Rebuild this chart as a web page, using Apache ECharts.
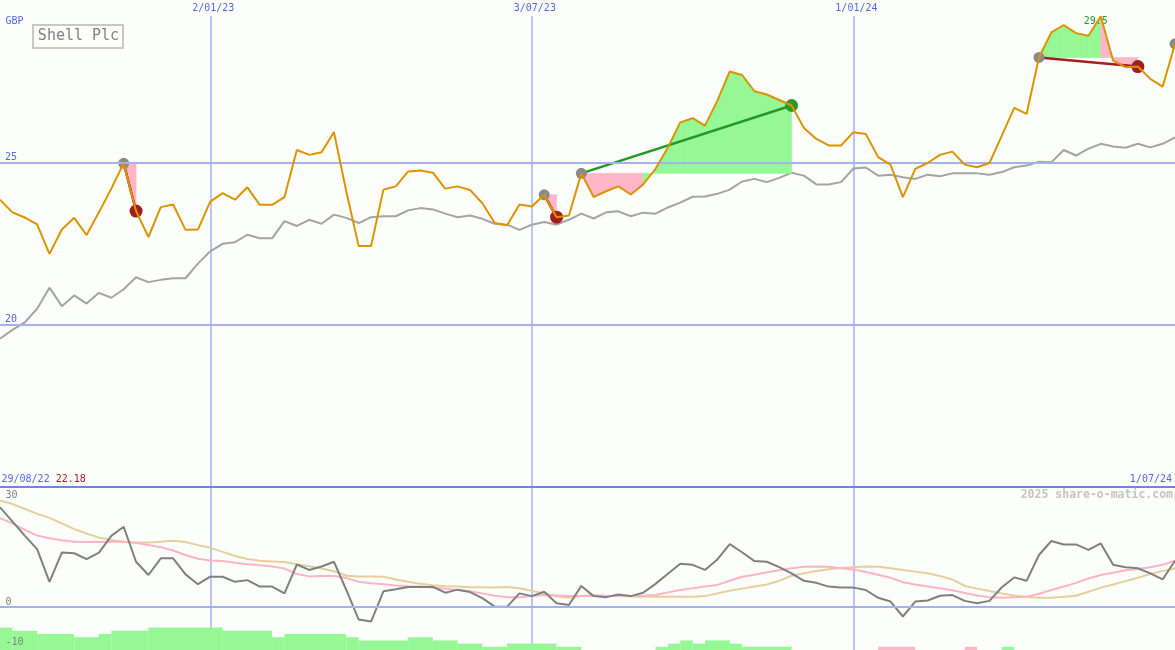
<!DOCTYPE html>
<html><head><meta charset="utf-8">
<script src="https://cdn.jsdelivr.net/npm/echarts@6/dist/echarts.min.js"></script>
<style>html,body{margin:0;padding:0;background:#fcfefc;}#c{width:1175px;height:650px;}</style>
</head><body><div id="c"></div>
<script>
// ---------------- data ----------------
const title = 'Shell Plc';
const currency = 'GBP';
const watermark = '2025 share-o-matic.com';
const startLabel = '29/08/22';
const firstWeek = [2022, 8, 5]; // 5 Sep 2022, weekly points
const priceTicks = [20, 25];
const lowerTicks = ['30', '0', '-10'];
const gridDates = ['2/01/23', '3/07/23', '1/01/24'];

const price = [
23.85, 23.46, 23.30, 23.09, 22.18, 22.93, 23.29, 22.76, 23.46, 24.19,
24.97, 23.50, 22.70, 23.62, 23.70, 22.92, 22.93, 23.79, 24.05, 23.85,
24.23, 23.69, 23.69, 23.93, 25.38, 25.23, 25.31, 25.93, 24.10, 22.42,
22.42, 24.16, 24.26, 24.72, 24.75, 24.68, 24.19, 24.26, 24.15, 23.74,
23.13, 23.06, 23.70, 23.64, 24.00, 23.31, 23.36, 24.66, 23.93, 24.11,
24.26, 24.01, 24.32, 24.80, 25.46, 26.23, 26.36, 26.13, 26.90, 27.80,
27.69, 27.19, 27.09, 26.92, 26.75, 26.06, 25.72, 25.52, 25.52, 25.93,
25.87, 25.16, 24.93, 23.93, 24.80, 24.98, 25.23, 25.33, 24.93, 24.85,
24.98, 25.82, 26.68, 26.49, 28.23, 29.00, 29.23, 28.98, 28.90, 29.50,
28.13, 27.93, 27.95, 27.57, 27.33, 28.65
];
const relIndex = [
19.57, 19.84, 20.07, 20.49, 21.14, 20.57, 20.90, 20.65, 20.98, 20.83,
21.09, 21.46, 21.31, 21.38, 21.43, 21.43, 21.88, 22.26, 22.49, 22.54,
22.77, 22.66, 22.66, 23.19, 23.04, 23.23, 23.11, 23.39, 23.29, 23.13,
23.31, 23.34, 23.34, 23.52, 23.59, 23.55, 23.42, 23.31, 23.36, 23.26,
23.11, 23.08, 22.92, 23.08, 23.16, 23.08, 23.23, 23.42, 23.27, 23.46,
23.49, 23.34, 23.45, 23.42, 23.61, 23.76, 23.94, 23.95, 24.03, 24.16,
24.41, 24.49, 24.39, 24.52, 24.68, 24.59, 24.32, 24.32, 24.39, 24.81,
24.84, 24.59, 24.62, 24.54, 24.49, 24.62, 24.57, 24.66, 24.66, 24.66,
24.62, 24.70, 24.85, 24.90, 25.02, 25.00, 25.38, 25.21, 25.42, 25.57,
25.49, 25.45, 25.57, 25.46, 25.57, 25.77
];
const osc = [
29.3, 25.2, 21.0, 17.0, 7.4, 16.0, 15.8, 14.1, 16.0, 20.9,
23.6, 13.3, 9.4, 14.3, 14.3, 9.6, 6.7, 8.9, 8.9, 7.4,
7.9, 6.0, 6.0, 4.0, 12.5, 10.9, 11.9, 13.3, 5.0, -3.7,
-4.3, 4.6, 5.2, 5.9, 5.9, 5.9, 4.2, 5.1, 4.4, 2.6,
0.1, 0.1, 4.0, 3.2, 4.5, 1.1, 0.6, 6.2, 3.2, 2.9,
3.7, 3.2, 4.2, 6.8, 9.8, 12.7, 12.4, 10.9, 14.0, 18.5,
16.1, 13.5, 13.3, 11.7, 9.9, 7.7, 7.1, 6.0, 5.7, 5.7,
5.0, 2.7, 1.6, -2.8, 1.6, 1.9, 3.3, 3.5, 1.8, 1.1,
1.8, 5.8, 8.7, 7.7, 15.3, 19.4, 18.4, 18.4, 16.8, 18.7,
12.4, 11.7, 11.4, 9.9, 8.1, 13.6
];
const oscFast = [
26.1, 24.6, 22.7, 21.0, 20.2, 19.6, 19.2, 19.1, 19.1, 19.2,
19.2, 18.8, 18.2, 17.6, 16.6, 15.3, 14.2, 13.7, 13.5, 13.0,
12.6, 12.3, 11.9, 11.3, 9.7, 9.0, 9.1, 9.1, 8.5, 7.4,
7.0, 6.7, 6.3, 6.1, 6.0, 5.7, 5.4, 5.0, 4.6, 4.0,
3.3, 2.9, 2.9, 3.2, 3.5, 3.4, 3.2, 3.2, 3.2, 3.2,
3.2, 3.2, 3.3, 3.5, 4.3, 5.0, 5.5, 6.0, 6.5, 7.7,
8.9, 9.5, 10.2, 10.8, 11.4, 11.8, 11.9, 11.8, 11.4, 11.0,
10.3, 9.5, 8.6, 7.3, 6.6, 6.0, 5.5, 4.9, 4.1, 3.4,
2.9, 2.7, 2.9, 3.0, 3.9, 5.0, 6.0, 7.1, 8.4, 9.4,
10.1, 10.8, 11.2, 11.7, 12.4, 13.6
];
const oscSlow = [
31.3, 30.3, 28.9, 27.4, 26.2, 24.6, 22.9, 21.6, 20.4, 19.7,
19.2, 19.0, 19.0, 19.2, 19.5, 19.1, 18.2, 17.4, 16.2, 15.0,
14.1, 13.6, 13.4, 13.2, 12.6, 12.0, 11.3, 10.5, 9.2, 9.0,
9.0, 8.9, 8.1, 7.4, 6.8, 6.4, 6.1, 6.0, 5.8, 5.8,
5.7, 5.9, 5.5, 4.8, 4.0, 3.1, 2.7, 3.2, 3.5, 3.2,
3.2, 3.1, 3.0, 3.0, 3.0, 3.0, 3.0, 3.2, 4.0, 4.8,
5.4, 6.0, 6.6, 7.7, 9.2, 9.9, 10.6, 11.1, 11.5, 11.7,
11.9, 11.8, 11.4, 10.9, 10.4, 9.9, 9.1, 8.1, 6.2, 5.4,
4.7, 4.0, 3.4, 3.0, 2.7, 2.7, 3.0, 3.3, 4.5, 5.7,
6.6, 7.6, 8.6, 9.7, 10.6, 11.3
];
const tradeEntries = [10, 44, 47, 84];
const tradeExits = [11, 45, 64, 92];
const openEntries = [95];
// [fromWeek, toWeek, level]
const barsUp = [
[0,1,7],[1,3,6],[3,6,5],[6,8,4],[8,9,5],[9,12,6],[12,18,7],[18,22,6],[22,23,4],[23,28,5],
[28,29,4],[29,33,3],[33,35,4],[35,37,3],[37,39,2],[39,41,1],[41,45,2],[45,47,1],
[53,54,1],[54,55,2],[55,56,3],[56,57,2],[57,59,3],[59,60,2],[60,64,1],[81,82,1]
];
const barsDown = [[71,74,1],[78,79,1]];

// ---------------- derived ----------------
const pad2 = n => (n < 10 ? '0' : '') + n;
const categories = [];
const t0 = Date.UTC(firstWeek[0], firstWeek[1], firstWeek[2]);
for (let k = 0; k < price.length; k++) {
  const d = new Date(t0 + k * 7 * 86400000);
  categories.push(d.getUTCDate() + '/' + pad2(d.getUTCMonth() + 1) + '/' + pad2(d.getUTCFullYear() % 100));
}
const gridIdx = gridDates.map(s => categories.indexOf(s));

const fillData = [];
tradeEntries.forEach((e, t) => {
  const x = tradeExits[t], lvl = price[e];
  for (let j = e; j < x; j++) fillData.push([j, price[j], price[j + 1], lvl]);
});
const tradeLineData = tradeEntries.map((e, t) => [e, price[e], tradeExits[t], price[tradeExits[t]]]);
const markerData = [];
tradeEntries.forEach((e, t) => {
  markerData.push([e, price[e], 0]);
  const x = tradeExits[t];
  markerData.push([x, price[x], price[x] > price[e] ? 1 : 2]);
});
openEntries.forEach(e => markerData.push([e, price[e], 0]));
const barData = barsUp.map(b => [b[0], b[1], b[2], 0]).concat(barsDown.map(b => [b[0], b[1], b[2], 1]));
const minPrice = Math.min.apply(null, price).toFixed(2);

// ---------------- styles ----------------
const MONO = '"DejaVu Sans Mono", monospace';
const BLUE = '#5566e6';
const GRIDC = '#a6b1f2';
const GREEN_FILL = '#95f895';
const PINK_FILL = '#ffb6c6';

const chart = echarts.init(document.getElementById('c'), null, {renderer: 'canvas'});
const option = {
  backgroundColor: '#fcfefc',
  animation: false,
  grid: [
    {left: 0, right: 0, top: 0, height: 487, outerBoundsMode: 'none'},
    {left: 0, right: 0, top: 487, height: 163, outerBoundsMode: 'none'},
    {left: 0, right: 0, top: 16, bottom: 0, outerBoundsMode: 'none'}
  ],
  xAxis: [
    {gridIndex: 0, type: 'category', data: categories, boundaryGap: false,
     axisLine: {show: true, onZero: false, lineStyle: {color: '#7282ea', width: 2}},
     axisTick: {show: false}, axisLabel: {show: false}, splitLine: {show: false}},
    {gridIndex: 1, type: 'category', data: categories, boundaryGap: false, show: false},
    {gridIndex: 2, type: 'category', data: categories, boundaryGap: false, position: 'top',
     axisLine: {show: false}, axisTick: {show: false},
     axisLabel: {show: true, interval: i => gridIdx.indexOf(i) >= 0, margin: 3, color: BLUE,
       fontFamily: MONO, fontSize: 10, padding: [0, 0, 0, 6]},
     splitLine: {show: true, interval: i => gridIdx.indexOf(i) >= 0, lineStyle: {color: GRIDC, width: 1.5}}}
  ],
  yAxis: [
    {gridIndex: 0, type: 'value', min: 15, max: 30, interval: 5,
     axisLine: {show: false}, axisTick: {show: false}, splitLine: {show: false},
     axisLabel: {inside: true, margin: 5, verticalAlign: 'bottom', color: BLUE, fontFamily: MONO, fontSize: 10,
       formatter: v => priceTicks.indexOf(v) >= 0 ? String(v) : ''}},
    {gridIndex: 1, type: 'value', min: -12.65, max: 35.29, show: false},
    {gridIndex: 1, type: 'value', min: 0, max: 163 / 3.2, show: false},
    {gridIndex: 2, type: 'value', min: 0, max: 1, show: false}
  ],
  series: [
    {type: 'line', name: 'index', xAxisIndex: 0, yAxisIndex: 0, data: relIndex, z: 1, symbol: 'none', silent: true,
     lineStyle: {color: '#a4a4a4', width: 2},
     markLine: {silent: true, symbol: 'none', label: {show: false}, animation: false,
       lineStyle: {color: GRIDC, width: 2, type: 'solid'}, data: priceTicks.map(v => ({yAxis: v}))}},
    {type: 'custom', name: 'fills', xAxisIndex: 0, yAxisIndex: 0, z: 2, silent: true, data: fillData,
     encode: {x: 0, y: [1, 2, 3]},
     renderItem: (params, api) => {
       const j = api.value(0), a = api.value(1), b = api.value(2), l = api.value(3);
       const col = b > l ? GREEN_FILL : PINK_FILL;
       return {type: 'polygon', shape: {points: [api.coord([j, l]), api.coord([j, a]), api.coord([j + 1, b]), api.coord([j + 1, l])]},
         style: {fill: col, stroke: col, lineWidth: 0.6}};
     }},
    {type: 'custom', name: 'tradeLines', xAxisIndex: 0, yAxisIndex: 0, z: 3, silent: true, data: tradeLineData,
     encode: {x: [0, 2], y: [1, 3]},
     renderItem: (params, api) => {
       const p1 = api.coord([api.value(0), api.value(1)]), p2 = api.coord([api.value(2), api.value(3)]);
       return {type: 'line', shape: {x1: p1[0], y1: p1[1], x2: p2[0], y2: p2[1]},
         style: {stroke: api.value(3) > api.value(1) ? '#229922' : '#a22020', lineWidth: 2.5}};
     }},
    {type: 'scatter', name: 'markers', xAxisIndex: 0, yAxisIndex: 0, z: 4, silent: true, data: markerData,
     symbol: 'circle', symbolSize: (v) => v[2] === 0 ? 11 : 13,
     itemStyle: {opacity: 1, color: p => ['#8a8a8a', '#2a9a2a', '#a21d1d'][p.data[2]]}},
    {type: 'line', name: 'price', xAxisIndex: 0, yAxisIndex: 0, data: price, z: 5, symbol: 'none', silent: true,
     lineStyle: {color: '#dd9300', width: 2},
     markPoint: {silent: true, symbol: 'circle', symbolSize: 1, itemStyle: {color: 'rgba(0,0,0,0)'},
       label: {show: true, position: 'inside', offset: [-5, 5], color: '#22a022', fontFamily: MONO, fontSize: 10,
         formatter: p => String(p.value)},
       data: [{type: 'max'}]}},
    {type: 'custom', name: 'bars', xAxisIndex: 1, yAxisIndex: 2, z: 1, silent: true, data: barData,
     encode: {x: [0, 1], y: 2},
     renderItem: (params, api) => {
       const a = api.coord([api.value(0), api.value(2)]), b = api.coord([api.value(1), 0]);
       return {type: 'rect', shape: {x: a[0], y: a[1], width: b[0] - a[0], height: b[1] - a[1]},
         style: {fill: api.value(3) ? PINK_FILL : GREEN_FILL}};
     }},
    {type: 'line', name: 'slow', xAxisIndex: 1, yAxisIndex: 1, data: oscSlow, z: 2, symbol: 'none', silent: true,
     lineStyle: {color: '#e6cf9c', width: 2},
     markLine: {silent: true, symbol: 'none', label: {show: false}, animation: false,
       lineStyle: {color: GRIDC, width: 2, type: 'solid'}, data: [{yAxis: 0}]}},
    {type: 'line', name: 'fast', xAxisIndex: 1, yAxisIndex: 1, data: oscFast, z: 3, symbol: 'none', silent: true,
     lineStyle: {color: '#ffb4c4', width: 2}},
    {type: 'line', name: 'osc', xAxisIndex: 1, yAxisIndex: 1, data: osc, z: 4, symbol: 'none', silent: true,
     lineStyle: {color: '#808080', width: 2}}
  ],
  graphic: [
    {type: 'text', z: 10, style: {text: currency, x: 5.5, y: 21, verticalAlign: 'middle', fill: BLUE, font: '10px ' + MONO}},
    {type: 'rect', z: 10, shape: {x: 33, y: 25, width: 90, height: 23}, style: {fill: 'rgba(0,0,0,0)', stroke: '#c8c8c8', lineWidth: 2}},
    {type: 'text', z: 10, style: {text: title, x: 78.5, y: 36.5, align: 'center', verticalAlign: 'middle', fill: '#808080', font: '15px ' + MONO}},
    {type: 'text', z: 10, style: {text: '{d|' + startLabel + '} {p|' + minPrice + '}', x: 1.5, y: 479, verticalAlign: 'middle',
      font: '10px ' + MONO, rich: {d: {fill: BLUE, font: '10px ' + MONO}, p: {fill: '#a02020', font: '10px ' + MONO}}}},
    {type: 'text', z: 10, style: {text: categories[categories.length - 1], x: 1172, y: 479, align: 'right', verticalAlign: 'middle', fill: BLUE, font: '10px ' + MONO}},
    {type: 'text', z: 10, style: {text: watermark, x: 1173, y: 495.5, align: 'right', verticalAlign: 'middle', fill: '#c4c4c4', font: 'bold 11.5px ' + MONO}},
    {type: 'text', z: 10, style: {text: lowerTicks[0], x: 5.5, y: 495.5, verticalAlign: 'middle', fill: '#808080', font: '10px ' + MONO}},
    {type: 'text', z: 10, style: {text: lowerTicks[1], x: 5.5, y: 602, verticalAlign: 'middle', fill: '#808080', font: '10px ' + MONO}},
    {type: 'text', z: 10, style: {text: lowerTicks[2], x: 5.5, y: 642, verticalAlign: 'middle', fill: '#808080', font: '10px ' + MONO}}
  ]
};
chart.setOption(option);
</script>
</body></html>
